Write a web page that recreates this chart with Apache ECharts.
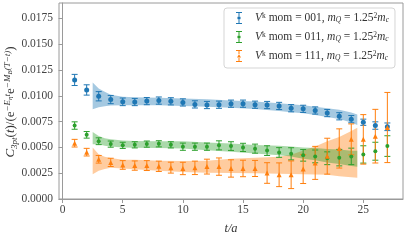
<!DOCTYPE html>
<html><head><meta charset="utf-8">
<script src="https://cdn.jsdelivr.net/npm/echarts@6/dist/echarts.min.js"></script>
<style>html,body{margin:0;padding:0;background:#fff}#c{width:407px;height:240px}</style>
</head><body><div id="c"></div>
<script>
// ---- data ----
const tValues = [1,2,3,4,5,6,7,8,9,10,11,12,13,14,15,16,17,18,19,20,21,22,23,24,25,26,27];
const blueValues = [0.01154,0.01057,0.00996,0.00964,0.00942,0.0094,0.00949,0.00954,0.00947,0.00936,0.00917,0.00911,0.00914,0.00924,0.00924,0.00914,0.00911,0.00902,0.0088,0.00874,0.00858,0.00833,0.00802,0.00774,0.00744,0.00712,0.007];
const blueErrors = [0.00054,0.0005,0.00045,0.0004,0.00037,0.00035,0.00035,0.00035,0.00035,0.00035,0.00035,0.00035,0.00035,0.00035,0.00035,0.00035,0.00035,0.00035,0.00035,0.00035,0.00035,0.00035,0.00035,0.00035,0.0003,0.00036,0.00037];
const greenValues = [0.00712,0.00622,0.0056,0.00532,0.0052,0.00525,0.00532,0.00535,0.00525,0.00507,0.00507,0.00507,0.0052,0.00513,0.005,0.00488,0.00469,0.00451,0.00438,0.00423,0.00413,0.00395,0.00401,0.00413,0.00432,0.00463,0.00513];
const greenErrors = [0.00036,0.00032,0.00033,0.0003,0.0003,0.0003,0.0003,0.0003,0.0003,0.00035,0.00035,0.00035,0.00044,0.00042,0.0004,0.00044,0.00047,0.00047,0.00059,0.00056,0.00062,0.00062,0.0008,0.0008,0.00084,0.00087,0.001];
const orangeValues = [0.00541,0.00454,0.00385,0.00355,0.0033,0.00324,0.00324,0.00317,0.00304,0.00296,0.00302,0.00314,0.00314,0.00296,0.00296,0.00296,0.00252,0.00235,0.00235,0.0029,0.0035,0.00415,0.0049,0.00578,0.00578,0.00609,0.00693];
const orangeErrors = [0.00037,0.00037,0.00037,0.0004,0.00042,0.00045,0.00048,0.0005,0.00053,0.0006,0.00065,0.00072,0.00084,0.00084,0.0008,0.00078,0.001,0.00115,0.00134,0.0014,0.0016,0.00174,0.0019,0.0015,0.0024,0.0026,0.0034];

const bandT = [2.5,3,3.5,4,5,6,8,10,12,14,16,18,19,20,21,22,23,24,24.5];
const blueBandLo = [0.0087,0.0089,0.0090,0.00906,0.00908,0.0091,0.00908,0.00902,0.00894,0.00884,0.00872,0.00853,0.00842,0.00831,0.00815,0.00796,0.00776,0.00742,0.00718];
const blueBandHi = [0.0113,0.0107,0.0104,0.0101,0.00992,0.00986,0.00982,0.00974,0.00966,0.00956,0.00944,0.00927,0.00918,0.00909,0.00895,0.0088,0.00864,0.00838,0.00818];
const greenBandLo = [0.0053,0.0053,0.00515,0.0051,0.00499,0.00497,0.00495,0.0049,0.00473,0.00458,0.0044,0.00423,0.00412,0.0039,0.00375,0.00355,0.0034,0.0032,0.00312];
const greenBandHi = [0.0065,0.0061,0.0059,0.00578,0.00567,0.00563,0.0056,0.0056,0.00547,0.00538,0.00524,0.00517,0.00508,0.005,0.00495,0.00485,0.0048,0.00468,0.00468];
const orangeBandLo = [0.0024,0.00275,0.0029,0.00303,0.00295,0.00288,0.00275,0.00262,0.00255,0.00253,0.0025,0.00245,0.00242,0.0024,0.00238,0.00236,0.0022,0.0021,0.00205];
const orangeBandHi = [0.0050,0.00435,0.0041,0.00397,0.0038,0.0038,0.0037,0.00368,0.0037,0.0039,0.004,0.0041,0.0043,0.0047,0.0051,0.0056,0.006,0.0066,0.0069];

const xTicks = [0,5,10,15,20,25];
const yTicks = [0,0.0025,0.005,0.0075,0.01,0.0125,0.015,0.0175];
const momLabels = ['001','011','111'];
const seriesNames = ['V^k mom = 001','V^k mom = 011','V^k mom = 111'];

// ---- styles ----
const BLUE = '#1f77b4', ORANGE = '#ff7f0e', GREEN = '#2ca02c';
const FONT = '"Liberation Serif", "DejaVu Serif", serif';

function errRender(params, api) {
  const x = api.value(0), y = api.value(1), e = api.value(2);
  const top = api.coord([x, y + e]), bot = api.coord([x, y - e]);
  const cw = 3;
  const style = { stroke: api.visual('color'), lineWidth: 1 };
  return { type: 'group', children: [
    { type: 'line', shape: { x1: top[0], y1: top[1], x2: bot[0], y2: bot[1] }, style },
    { type: 'line', shape: { x1: top[0] - cw, y1: top[1], x2: top[0] + cw, y2: top[1] }, style },
    { type: 'line', shape: { x1: bot[0] - cw, y1: bot[1], x2: bot[0] + cw, y2: bot[1] }, style }
  ]};
}
function bandSeries(lo, hi, color, z) {
  return {
    type: 'custom', silent: true, z: z, clip: true,
    data: [[bandT[0], lo[0], hi[0]]],
    renderItem: function (params, api) {
      const pts = [];
      for (let i = 0; i < bandT.length; i++) pts.push(api.coord([bandT[i], hi[i]]));
      for (let i = bandT.length - 1; i >= 0; i--) pts.push(api.coord([bandT[i], lo[i]]));
      return { type: 'polygon', shape: { points: pts }, style: { fill: color, opacity: 0.4 } };
    }
  };
}
function errSeries(name, vals, errs, color) {
  return {
    name: name, type: 'custom', z: 5, itemStyle: { color: color },
    data: tValues.map((t, i) => [t, vals[i], errs[i]]),
    renderItem: errRender
  };
}
function markSeries(vals, color, symbol, size) {
  return {
    type: 'scatter', z: 6, symbol: symbol, symbolSize: size,
    itemStyle: { color: color, opacity: 1 },
    data: tValues.map((t, i) => [t, vals[i]])
  };
}

const iconCircle = 'path://M0,0h6v1h-6z M2.5,1h1v3h-1z M2.5,8h1v3h-1z M0,11h6v1h-6z M3,4.3a1.7,1.7 0 1,1 -0.001,0z';
const iconTri = 'path://M0,0h6v1h-6z M2.5,1h1v3h-1z M2.5,8h1v3h-1z M0,11h6v1h-6z M3,4.2L5,7.6H1Z';

const chart = echarts.init(document.getElementById('c'), null, { renderer: 'canvas' });
chart.setOption({
  animation: false,
  backgroundColor: '#fff',
  grid: { left: 59, right: 4, top: 3, bottom: 33, show: true, borderColor: '#9a9a9a', borderWidth: 1 },
  xAxis: {
    type: 'value', min: -0.3, max: 28.3,
    name: 't/a', nameLocation: 'middle', nameGap: 23,
    nameTextStyle: { fontFamily: FONT, fontStyle: 'italic', fontSize: 12.5, color: '#333' },
    axisLine: { show: true, lineStyle: { color: '#9a9a9a' } },
    axisTick: { show: true, length: 4, lineStyle: { color: '#9a9a9a' }, customValues: xTicks },
    axisLabel: { fontFamily: FONT, fontSize: 11.5, color: '#444', margin: 5, customValues: xTicks },
    splitLine: { show: false }
  },
  yAxis: {
    type: 'value', min: 0, max: 0.019,
    axisLine: { show: true, lineStyle: { color: '#9a9a9a' } },
    axisTick: { show: true, length: 4, lineStyle: { color: '#9a9a9a' }, customValues: yTicks },
    axisLabel: { fontFamily: FONT, fontSize: 11.5, color: '#444', margin: 6, customValues: yTicks,
      formatter: v => v.toFixed(4) },
    splitLine: { show: false }
  },
  legend: {
    data: [
      { name: seriesNames[0], icon: iconCircle },
      { name: seriesNames[1], icon: iconCircle },
      { name: seriesNames[2], icon: iconTri }
    ],
    orient: 'vertical', left: 224, top: 8, itemWidth: 6, itemHeight: 12, itemGap: 5,
    backgroundColor: 'rgba(255,255,255,0.85)', borderColor: '#d5d5d5', borderWidth: 1, borderRadius: 3,
    padding: [4, 6, 4, 12],
    formatter: function (name) {
      const m = momLabels[seriesNames.indexOf(name)];
      return '{i|V}{sup|k}{r| mom = ' + m + ', }{i|m}{sub|Q}{r| = 1.25}{sup|2}{i|m}{sub|c}';
    },
    textStyle: { fontFamily: FONT, fontSize: 11.5, color: '#333', padding: [0, 0, 0, 8],
      rich: {
        r: { fontFamily: FONT, fontSize: 11.5, color: '#333', lineHeight: 12 },
        i: { fontFamily: FONT, fontSize: 11.5, fontStyle: 'italic', color: '#333', lineHeight: 12 },
        sup: { fontFamily: FONT, fontSize: 7.5, color: '#333', verticalAlign: 'top', lineHeight: 12, padding: [0, 0, 6, 0] },
        sub: { fontFamily: FONT, fontSize: 7.5, fontStyle: 'italic', color: '#333', verticalAlign: 'bottom', lineHeight: 12, padding: [4, 0, 0, 0] }
      }
    }
  },
  graphic: [{
    type: 'text', x: 11, y: 102, rotation: Math.PI / 2, z: 10,
    style: {
      text: '{i|C}{sub|3pt}{r|(}{i|t}{r|)/(e}{sup|−E}{ssub|η}{supi|t}{r|e}{sup|−M}{ssub|B}{sup|(T−t)}{r|)}',
      align: 'center', verticalAlign: 'middle', fill: '#333',
      rich: {
        r: { fontFamily: FONT, fontSize: 13, fill: '#333', lineHeight: 16 },
        i: { fontFamily: FONT, fontSize: 13, fontStyle: 'italic', fill: '#333', lineHeight: 16 },
        sub: { fontFamily: FONT, fontSize: 9, fontStyle: 'italic', fill: '#333', verticalAlign: 'bottom', lineHeight: 16 },
        sup: { fontFamily: FONT, fontSize: 9, fontStyle: 'italic', fill: '#333', verticalAlign: 'top', lineHeight: 16 },
        supi: { fontFamily: FONT, fontSize: 9, fontStyle: 'italic', fill: '#333', verticalAlign: 'top', lineHeight: 16 },
        ssub: { fontFamily: FONT, fontSize: 7, fontStyle: 'italic', fill: '#333', verticalAlign: 'top', lineHeight: 16, padding: [4, 0, 0, 0] }
      }
    }
  }],
  series: [
    bandSeries(orangeBandLo, orangeBandHi, ORANGE, 1),
    bandSeries(greenBandLo, greenBandHi, GREEN, 2),
    bandSeries(blueBandLo, blueBandHi, BLUE, 3),
    errSeries(seriesNames[0], blueValues, blueErrors, BLUE),
    errSeries(seriesNames[1], greenValues, greenErrors, GREEN),
    errSeries(seriesNames[2], orangeValues, orangeErrors, ORANGE),
    markSeries(blueValues, BLUE, 'circle', 5),
    markSeries(greenValues, GREEN, 'circle', 4),
    markSeries(orangeValues, ORANGE, 'triangle', 5)
  ]
});
</script></body></html>
